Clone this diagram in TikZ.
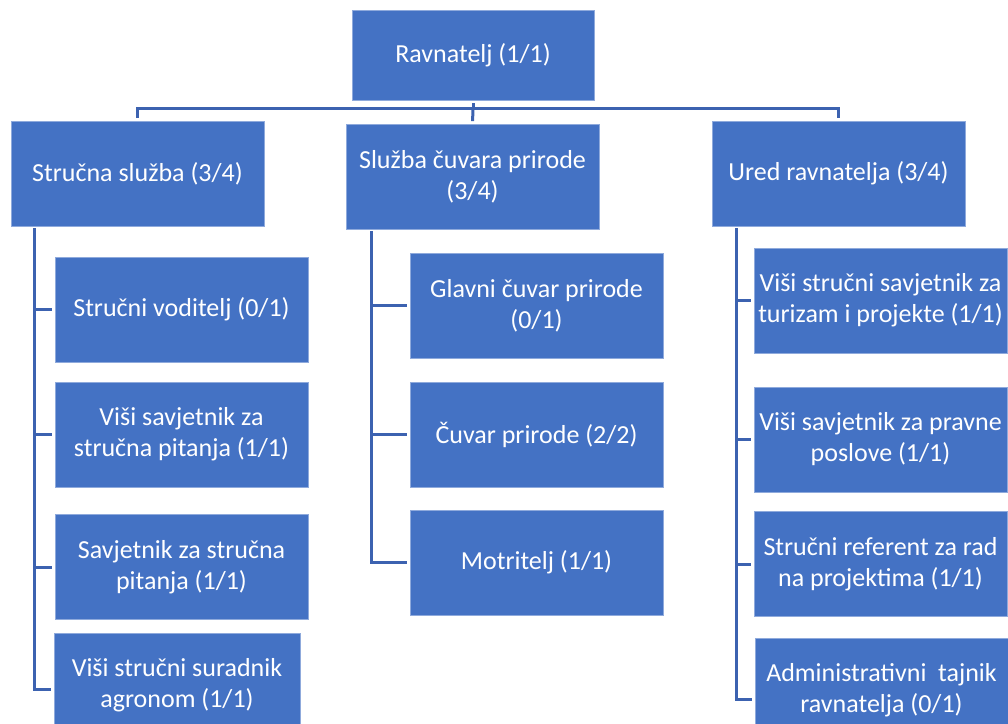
\documentclass[tikz,border=0pt]{standalone}
\usepackage{fontspec}
\setmainfont{Carlito}
\definecolor{boxblue}{RGB}{68,114,196}
\definecolor{boxedge}{RGB}{143,170,220}
\definecolor{linkblue}{RGB}{60,98,176}
\begin{document}
\begin{tikzpicture}[x=1pt, y=-1pt,
  unit/.style={rectangle, fill=boxblue, draw=boxedge, line width=0.8pt,
    text=white, align=center, inner sep=2pt,
    minimum width=253pt, minimum height=105pt,
    font=\fontsize{26}{31}\selectfont},
  link/.style={draw=linkblue, line width=3pt},
  stub/.style={link, shorten >=2.5pt}]
  \useasboundingbox (0,0) rectangle (1008,723);
  \clip (0,0) rectangle (1008,723);

  % Define node positions
  \node[unit, minimum width=242pt, minimum height=90pt] (rav) at (473,55) {Ravnatelj (1/1)};
  \node[unit] (strucna) at (137.5,173.5) {Stručna služba (3/4)};
  \node[unit] (sluzba)  at (472.5,176.5) {Služba čuvara prirode\\(3/4)};
  \node[unit] (ured)    at (838.5,173.5) {Ured ravnatelja (3/4)};

  \node[unit] (voditelj)  at (181.5,309.5) {Stručni voditelj (0/1)};
  \node[unit] (visisav)   at (181.5,434.5) {Viši savjetnik za\\stručna pitanja (1/1)};
  \node[unit] (savjetnik) at (181.5,567)   {Savjetnik za stručna\\pitanja (1/1)};
  \node[unit, minimum width=246pt] (agronom) at (177,685.5) {Viši stručni suradnik\\agronom (1/1)};

  \node[unit] (glavni)    at (536.5,305.5) {Glavni čuvar prirode\\(0/1)};
  \node[unit] (cuvar)     at (536.5,434.5) {Čuvar prirode (2/2)};
  \node[unit] (motritelj) at (536.5,562.5) {Motritelj (1/1)};

  \node[unit] (turizam)  at (880.5,300.5) {Viši stručni savjetnik za\\turizam i projekte (1/1)};
  \node[unit] (pravne)   at (880.5,439.5) {Viši savjetnik za pravne\\poslove (1/1)};
  \node[unit] (referent) at (880.5,564)   {Stručni referent za rad\\na projektima (1/1)};
  \node[unit] (admin)    at (881.5,690.5) {Administrativni~ tajnik\\ravnatelja (0/1)};

  \coordinate (hub) at (473,108);
  \coordinate (lspine) at (34,229);
  \coordinate (mspine) at (371,232);
  \coordinate (rspine) at (736,229);
  \coordinate (agronomin) at ([yshift=-3.5pt]agronom.west);
  \coordinate (adminin) at ([yshift=-8.5pt]admin.west);

  % Draw edges
  \draw[link, shorten <=3pt] (rav) -- (hub);
  \draw[link, shorten >=2.5pt] (hub) -- (sluzba.north);
  \draw[link, shorten >=2.5pt, shorten <=2.5pt] (strucna.north) |- (hub) -| (ured.north);

  \draw[link, line cap=rect] (lspine) -- (lspine |- agronomin);
  \draw[stub] (lspine |- voditelj.west) -- (voditelj.west);
  \draw[stub] (lspine |- visisav.west) -- (visisav.west);
  \draw[stub] (lspine |- savjetnik.west) -- (savjetnik.west);
  \draw[stub] (lspine |- agronomin) -- (agronomin);

  \draw[link, line cap=rect] (mspine) -- (mspine |- motritelj.west);
  \draw[stub] (mspine |- glavni.west) -- (glavni.west);
  \draw[stub] (mspine |- cuvar.west) -- (cuvar.west);
  \draw[stub] (mspine |- motritelj.west) -- (motritelj.west);

  \draw[link, line cap=rect] (rspine) -- (rspine |- adminin);
  \draw[stub] (rspine |- turizam.west) -- (turizam.west);
  \draw[stub] (rspine |- pravne.west) -- (pravne.west);
  \draw[stub] (rspine |- referent.west) -- (referent.west);
  \draw[stub] (rspine |- adminin) -- (adminin);
\end{tikzpicture}
\end{document}
